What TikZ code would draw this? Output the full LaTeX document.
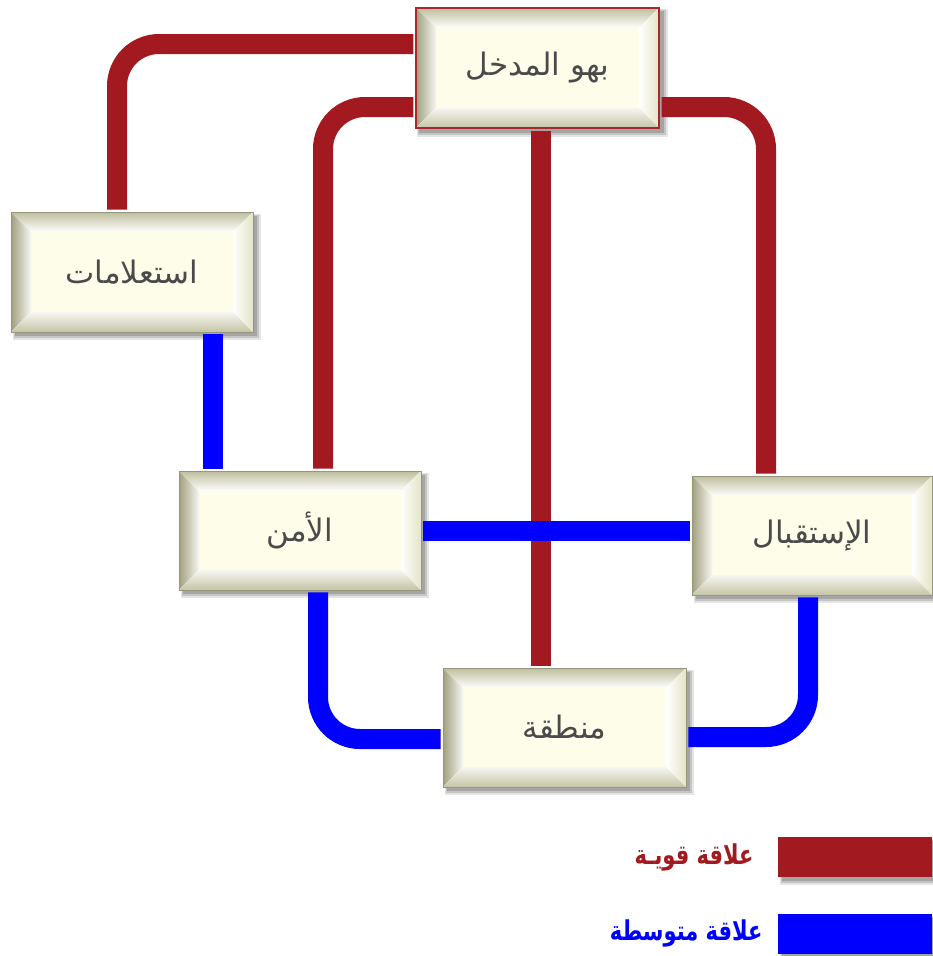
\documentclass[tikz,border=0pt]{standalone}
\usepackage{fontspec}
\usetikzlibrary{backgrounds}
\TeXXeTstate=1
\newfontfamily\arabicfont[Script=Arabic]{DejaVu Sans}
\definecolor{strongc}{RGB}{162,25,31}
\definecolor{mediumc}{RGB}{0,0,255}
\definecolor{facec}{RGB}{253,253,233}
\definecolor{bvtop}{RGB}{190,190,156}
\definecolor{bvleft}{RGB}{160,160,126}
\definecolor{bvright}{RGB}{228,228,200}
\definecolor{bvbottom}{RGB}{196,196,166}
\definecolor{bordergray}{RGB}{150,150,124}
\definecolor{textgray}{RGB}{74,74,74}
\definecolor{entryborder}{RGB}{170,40,44}
\tikzset{
  bevelbox/.style={draw=bordergray, line width=0.8pt, fill=facec,
    minimum width=242pt, minimum height=120pt, inner sep=0pt,
    font=\arabicfont\fontsize{31}{36}\selectfont, text=textgray,
    path picture={
      \path (path picture bounding box.north west) coordinate (@nw)
            (path picture bounding box.north east) coordinate (@ne)
            (path picture bounding box.south east) coordinate (@se)
            (path picture bounding box.south west) coordinate (@sw);
      \fill[top color=bvtop, bottom color=white]
        (@nw) -- (@ne) -- ([shift={(-20pt,-20pt)}]@ne) -- ([shift={(20pt,-20pt)}]@nw) -- cycle;
      \fill[left color=bvleft, right color=white!90!bvleft]
        (@nw) -- ([shift={(20pt,-20pt)}]@nw) -- ([shift={(20pt,20pt)}]@sw) -- (@sw) -- cycle;
      \fill[left color=white, right color=bvright]
        (@ne) -- ([shift={(-20pt,-20pt)}]@ne) -- ([shift={(-20pt,20pt)}]@se) -- (@se) -- cycle;
      \fill[top color=white!85!bvbottom, bottom color=bvbottom]
        (@sw) -- ([shift={(20pt,20pt)}]@sw) -- ([shift={(-20pt,20pt)}]@se) -- (@se) -- cycle;
    }},
  link/.style={line width=20pt, rounded corners=42pt, shorten <=2pt, shorten >=2pt},
  strongl/.style={link, draw=strongc},
  mediuml/.style={link, draw=mediumc},
  legbar/.style={minimum width=154pt, minimum height=40pt, inner sep=0pt},
  legtext/.style={anchor=east, font=\arabicfont\bfseries\fontsize{21}{25}\selectfont},
}
\newcommand\softshadow[1]{%
  \fill[black, opacity=0.10] ([shift={(2pt,-2pt)}]#1.north west) rectangle ([shift={(8pt,-8pt)}]#1.south east);
  \fill[black, opacity=0.14] ([shift={(3pt,-3pt)}]#1.north west) rectangle ([shift={(6pt,-6pt)}]#1.south east);
  \fill[black, opacity=0.16] ([shift={(4pt,-4pt)}]#1.north west) rectangle ([shift={(4pt,-4pt)}]#1.south east);
}
\begin{document}
\begin{tikzpicture}[x=1pt,y=-1pt]
\useasboundingbox (0,0) rectangle (932,956);
% boxes
\node[bevelbox, draw=entryborder, line width=1.2pt, minimum width=243pt] (entry) at (537.5,68) {\beginR بهو المدخل\endR};
\node[bevelbox] (info) at (132,272) {\beginR استعلامات\endR};
\node[bevelbox, minimum height=119pt] (security) at (300,530.5) {\beginR الأمن\endR};
\node[bevelbox, minimum height=119pt, minimum width=240pt] (reception) at (812,535.5) {\beginR الإستقبال\endR};
\node[bevelbox, minimum height=119pt, minimum width=243pt] (zone) at (564.5,727.5) {\beginR منطقة\endR};
% legend
\node[legbar, fill=strongc] (strongbar) at (855,857) {};
\node[legbar, fill=mediumc] (mediumbar) at (855,934) {};
\node[legtext, text=strongc] (strongtxt) at (757,857) {\scalebox{1}[1.3]{\beginR علاقة قويـة\endR}};
\node[legtext, text=mediumc] (mediumtxt) at (766,933) {\scalebox{1}[1.3]{\beginR علاقة متوسطة\endR}};
% shadows
\begin{scope}[on background layer]
\softshadow{entry}\softshadow{info}\softshadow{security}\softshadow{reception}\softshadow{zone}
\softshadow{strongbar}\softshadow{mediumbar}
\end{scope}
% helper coordinates
\coordinate (x3) at (541,0);
\coordinate (x5) at (213,0);
\coordinate (y6) at (0,531);
\coordinate (x7) at (318,0);
\coordinate (y7) at (0,739);
\coordinate (x8) at (808,0);
\coordinate (y8) at (0,737);
% strong relations
\draw[strongl] ([yshift=24pt]entry.west) -| ([xshift=-15pt]info.north);
\draw[strongl] ([yshift=-39pt]entry.west) -| ([xshift=23pt]security.north);
\draw[strongl] (entry.south -| x3) -- (zone.north -| x3);
\draw[strongl] ([yshift=-39pt]entry.east) -| ([xshift=-46pt]reception.north);
% medium relations
\draw[mediuml] (info.south -| x5) -- (security.north -| x5);
\draw[mediuml] (security.east |- y6) -- (reception.west |- y6);
\draw[mediuml] (security.south -| x7) |- (zone.west |- y7);
\draw[mediuml] (reception.south -| x8) |- (zone.east |- y8);
\end{tikzpicture}
\end{document}
